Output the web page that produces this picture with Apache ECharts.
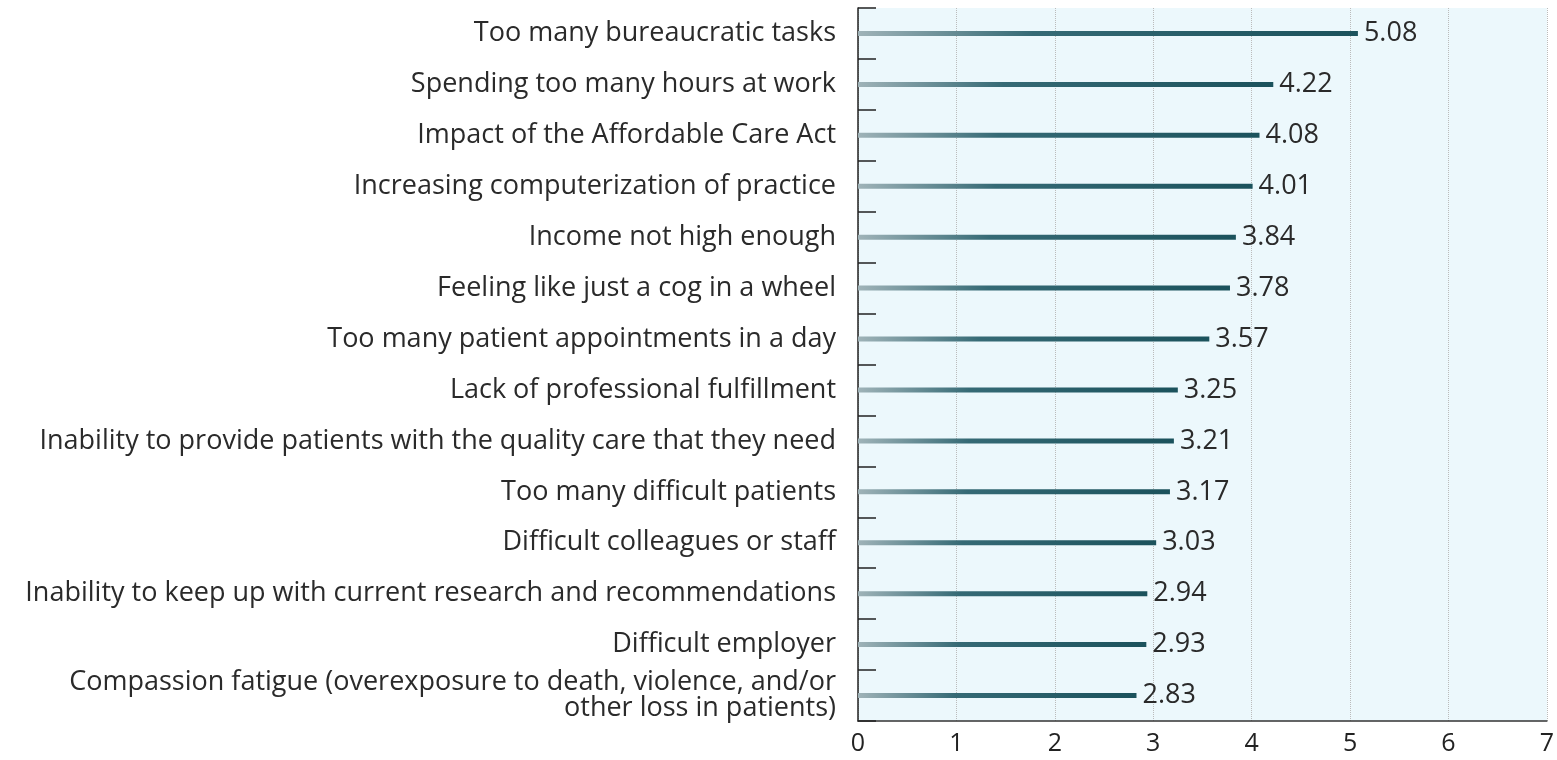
<!DOCTYPE html>
<html>
<head>
<meta charset="utf-8">
<script src="https://cdn.jsdelivr.net/npm/echarts@6/dist/echarts.min.js"></script>
<style>
  html, body { margin: 0; padding: 0; background: #fff; }
  #chart { width: 1557px; height: 760px; }
</style>
</head>
<body>
<div id="chart"></div>
<script>
const categories = [
  'Too many bureaucratic tasks',
  'Spending too many hours at work',
  'Impact of the Affordable Care Act',
  'Increasing computerization of practice',
  'Income not high enough',
  'Feeling like just a cog in a wheel',
  'Too many patient appointments in a day',
  'Lack of professional fulfillment',
  'Inability to provide patients with the quality care that they need',
  'Too many difficult patients',
  'Difficult colleagues or staff',
  'Inability to keep up with current research and recommendations',
  'Difficult employer',
  'Compassion fatigue (overexposure to death, violence, and/or\nother loss in patients)'
];
const scores = [5.08, 4.22, 4.08, 4.01, 3.84, 3.78, 3.57, 3.25, 3.21, 3.17, 3.03, 2.94, 2.93, 2.83];
const xMin = 0;
const xMax = 7;

const chart = echarts.init(document.getElementById('chart'));
const font = '"Open Sans", sans-serif';

chart.setOption({
  animation: false,
  grid: {
    left: 858, right: 9, top: 8, bottom: 39,
    show: true, backgroundColor: '#ecf8fc', borderWidth: 0
  },
  xAxis: {
    type: 'value',
    min: xMin, max: xMax, interval: 1,
    axisLine: {show: true, lineStyle: {color: '#333', width: 1.5}},
    axisTick: {show: false},
    axisLabel: {color: '#222', fontSize: 25, fontFamily: font, margin: 10},
    splitLine: {show: true, lineStyle: {color: '#bbbbbb', type: 'dotted', width: 1}}
  },
  yAxis: {
    type: 'category',
    data: categories,
    inverse: true,
    axisLine: {show: true, lineStyle: {color: '#222', width: 1.5}},
    axisTick: {show: true, inside: true, length: 18, lineStyle: {color: '#222', width: 1.5}},
    axisLabel: {
      color: '#2a2a2a', fontSize: 27, fontFamily: font, margin: 22,
      align: 'right', lineHeight: 26
    },
    splitLine: {show: false}
  },
  series: [{
    type: 'bar',
    data: scores,
    barWidth: 5,
    itemStyle: {
      color: new echarts.graphic.LinearGradient(0, 0, 1, 0, [
        {offset: 0, color: '#9fb3b8'},
        {offset: 0.35, color: '#356a75'},
        {offset: 1, color: '#1b525c'}
      ])
    },
    label: {
      show: true, position: 'right', distance: 6,
      color: '#2a2a2a', fontSize: 27, fontFamily: font,
      formatter: p => p.value.toFixed(2)
    }
  }]
});
</script>
</body>
</html>
